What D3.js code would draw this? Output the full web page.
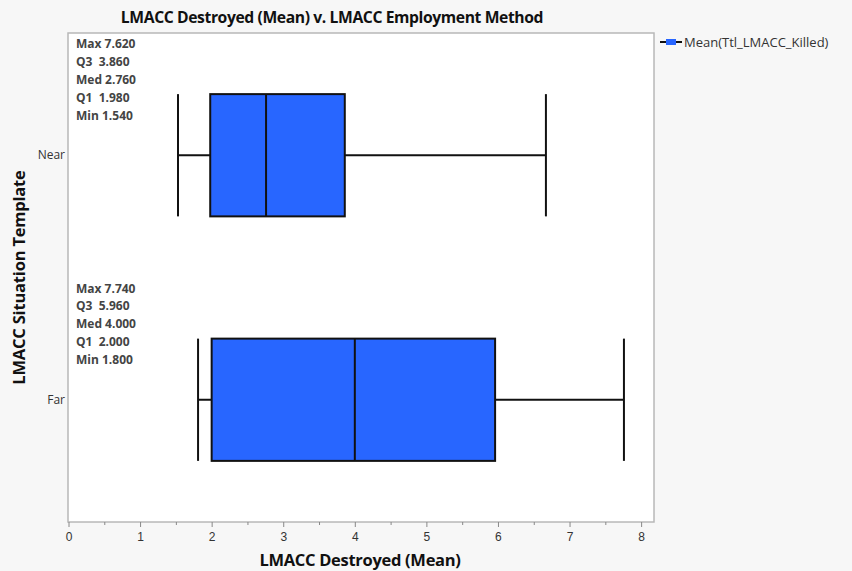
<!DOCTYPE html>
<html>
<head>
<meta charset="utf-8">
<script src="https://cdn.jsdelivr.net/npm/d3@7"></script>
<style>
  html, body { margin: 0; padding: 0; background: #f7f7f7; }
  svg { display: block; }
</style>
</head>
<body>
<svg></svg>
<script>
const categories = ["Near", "Far"];
const statMax = [7.620, 7.740];
const statQ3 = [3.860, 5.960];
const statMed = [2.760, 4.000];
const statQ1 = [1.980, 2.000];
const statMin = [1.540, 1.800];
// whisker ends as drawn
const whiskerLow = [1.53, 1.81];
const whiskerHigh = [6.67, 7.76];
const xTicks = [0, 1, 2, 3, 4, 5, 6, 7, 8];

const width = 852;
const height = 571;
const margin = { top: 33, right: 198, bottom: 49, left: 68 };

const svg = d3.select("svg")
  .attr("width", width)
  .attr("height", height)
  .style("font-family", '"Open Sans", "DejaVu Sans", sans-serif');

const x = d3.scaleLinear()
  .domain([0, 8.18])
  .range([margin.left + 0.5, width - margin.right]);

const y = d3.scaleBand()
  .domain(categories)
  .range([margin.top, height - margin.bottom])
  .paddingInner(0);

// plot area
svg.append("rect")
  .attr("x", margin.left)
  .attr("y", margin.top)
  .attr("width", width - margin.left - margin.right)
  .attr("height", height - margin.top - margin.bottom)
  .attr("fill", "white")
  .attr("stroke", "#b8b8b8")
  .attr("stroke-width", 1.5);

// x axis
const xAxis = svg.append("g")
  .attr("transform", `translate(0,${height - margin.bottom})`)
  .call(d3.axisBottom(x).tickValues(xTicks).tickSize(5).tickFormat(d3.format("d")));

svg.append("g")
  .attr("transform", `translate(0,${height - margin.bottom})`)
  .call(d3.axisBottom(x).tickValues(xTicks.slice(0, -1).map(d => d + 0.5)).tickSize(3).tickFormat(""))
  .call(g => g.select(".domain").remove());

svg.selectAll(".tick line").attr("stroke", "#888");
xAxis.select(".domain").remove();
xAxis.selectAll("text")
  .attr("fill", "#333")
  .style("font-size", "12px")
  .attr("dy", "0.9em");

// y labels
svg.append("g")
  .selectAll("text")
  .data(categories)
  .enter()
  .append("text")
  .attr("x", margin.left - 3)
  .attr("y", d => y(d) + y.bandwidth() / 2)
  .attr("dy", "0.35em")
  .attr("text-anchor", "end")
  .attr("fill", "#333")
  .style("font-size", "12px")
  .text(d => d);

// boxes
const boxH = y.bandwidth() / 2;
const rows = svg.append("g")
  .selectAll("g")
  .data(categories)
  .enter()
  .append("g")
  .attr("transform", d => `translate(0,${y(d) + y.bandwidth() / 2})`);

rows.append("line")
  .attr("x1", (d, i) => x(whiskerLow[i]))
  .attr("x2", (d, i) => x(whiskerHigh[i]))
  .attr("stroke", "#111")
  .attr("stroke-width", 2);

rows.append("rect")
  .attr("x", (d, i) => x(statQ1[i]))
  .attr("width", (d, i) => x(statQ3[i]) - x(statQ1[i]))
  .attr("y", -boxH / 2)
  .attr("height", boxH)
  .attr("fill", "#2866ff")
  .attr("stroke", "#111")
  .attr("stroke-width", 2);

rows.append("line")
  .attr("x1", (d, i) => x(statMed[i]))
  .attr("x2", (d, i) => x(statMed[i]))
  .attr("y1", -boxH / 2)
  .attr("y2", boxH / 2)
  .attr("stroke", "#111")
  .attr("stroke-width", 2);

[whiskerLow, whiskerHigh].forEach(arr => {
  rows.append("line")
    .attr("x1", (d, i) => x(arr[i]))
    .attr("x2", (d, i) => x(arr[i]))
    .attr("y1", -boxH / 2)
    .attr("y2", boxH / 2)
    .attr("stroke", "#111")
    .attr("stroke-width", 2);
});

// stats text
const statText = svg.append("g")
  .selectAll("text")
  .data(categories)
  .enter()
  .append("text")
  .attr("x", margin.left + 8)
  .attr("y", d => y(d) + 15)
  .attr("fill", "#444")
  .style("font-size", "12px")
  .style("font-weight", "bold");

statText.each(function (d, i) {
  const lines = [
    `Max ${statMax[i].toFixed(3)}`,
    `Q3  ${statQ3[i].toFixed(3)}`,
    `Med ${statMed[i].toFixed(3)}`,
    `Q1  ${statQ1[i].toFixed(3)}`,
    `Min ${statMin[i].toFixed(3)}`
  ];
  d3.select(this).selectAll("tspan")
    .data(lines)
    .enter()
    .append("tspan")
    .attr("x", margin.left + 8)
    .attr("dy", (l, j) => j === 0 ? 0 : 17.9)
    .attr("xml:space", "preserve")
    .style("white-space", "pre")
    .text(l => l);
});

// title
svg.append("text")
  .attr("x", 332)
  .attr("y", 23)
  .attr("text-anchor", "middle")
  .attr("fill", "#111")
  .style("font-size", "15.7px")
  .style("font-weight", "bold")
  .style("letter-spacing", "-0.4px")
  .text("LMACC Destroyed (Mean) v. LMACC Employment Method");

// x title
svg.append("text")
  .attr("x", 360)
  .attr("y", 566)
  .attr("text-anchor", "middle")
  .attr("fill", "#111")
  .style("font-size", "16.5px")
  .style("font-weight", "bold")
  .style("letter-spacing", "-0.3px")
  .text("LMACC Destroyed (Mean)");

// y title
svg.append("text")
  .attr("transform", `translate(25,${margin.top + (height - margin.top - margin.bottom) / 2}) rotate(-90)`)
  .attr("text-anchor", "middle")
  .attr("fill", "#111")
  .style("font-size", "16.5px")
  .style("font-weight", "bold")
  .style("letter-spacing", "-0.2px")
  .text("LMACC Situation Template");

// legend
const legend = svg.append("g")
  .attr("transform", `translate(${width - margin.right + 6},42)`);

legend.append("line")
  .attr("x1", 0).attr("x2", 22)
  .attr("stroke", "#111")
  .attr("stroke-width", 2);

legend.append("rect")
  .attr("x", 6).attr("y", -3)
  .attr("width", 10).attr("height", 6)
  .attr("fill", "#2866ff");

legend.append("text")
  .attr("x", 24)
  .attr("dy", "0.35em")
  .attr("fill", "#333")
  .style("font-size", "13px")
  .text("Mean(Ttl_LMACC_Killed)");
</script>
</body>
</html>
